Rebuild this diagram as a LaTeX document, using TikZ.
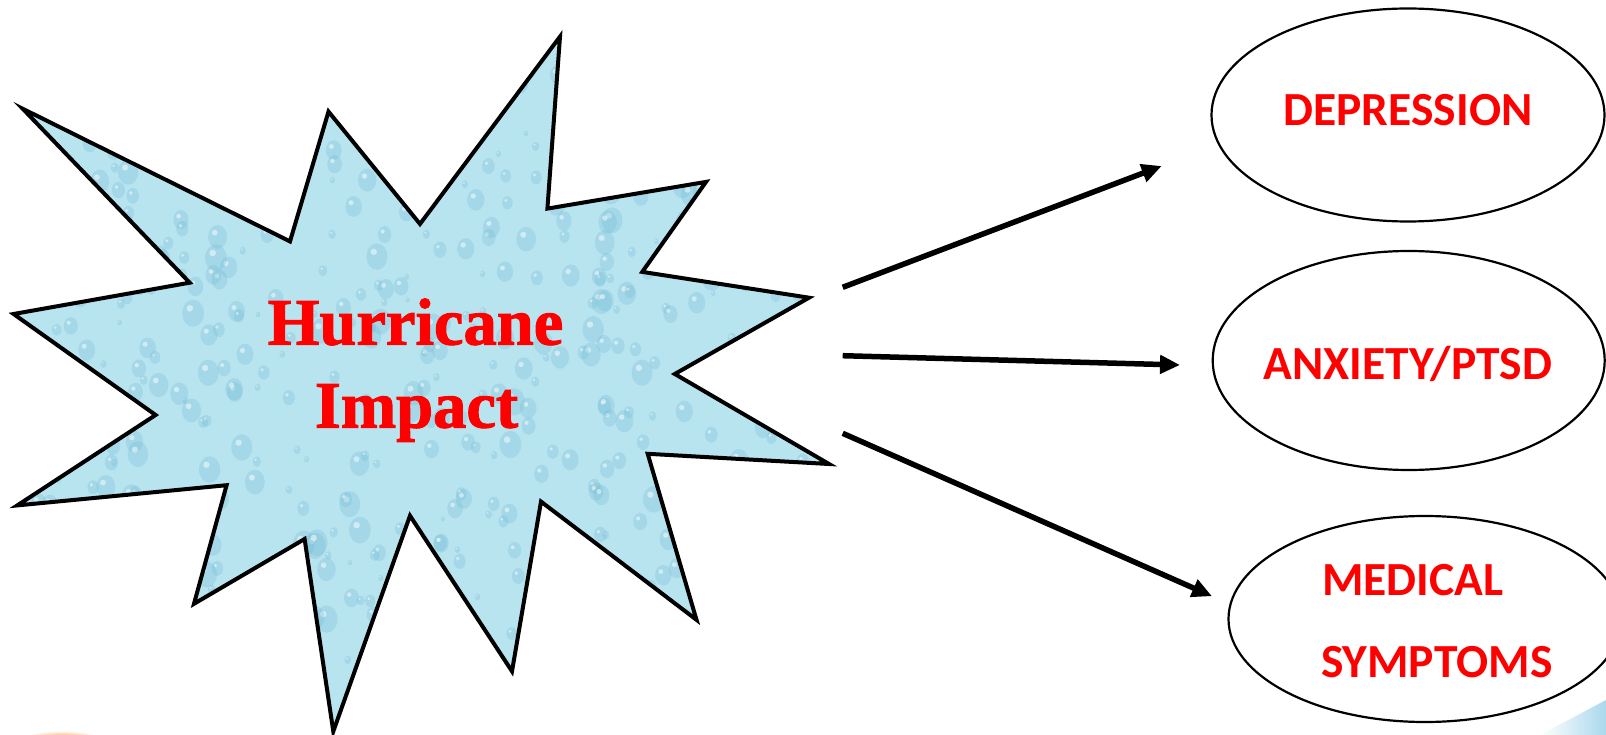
\documentclass[tikz,border=0pt]{standalone}
\usepackage{fontspec}
\setmainfont{Liberation Serif}
\newfontfamily\starfont{Liberation Serif Bold}[FakeBold=1.6]
\newfontfamily\calib{Carlito}
\usetikzlibrary{arrows.meta,shapes.geometric}
\definecolor{starfill}{RGB}{184,228,240}
\definecolor{dropc}{RGB}{105,182,210}
\definecolor{txtred}{RGB}{255,0,0}
\definecolor{swoosh}{RGB}{170,216,236}
\begin{document}
\begin{tikzpicture}[x=1pt,y=-1pt,
  startext/.style={text=txtred, font=\starfont\fontsize{66.5}{83}\selectfont, inner sep=0pt, anchor=base},
  bubble/.style={draw=black, line width=2.2pt, ellipse, inner sep=0pt},
  labtext/.style={text=txtred, font=\calib\bfseries\fontsize{47.5}{57}\selectfont, inner sep=0pt, anchor=base},
  conn/.style={line width=5.5pt, -{Triangle[length=20pt,width=18pt]}},
  outline/.style={draw=black, line width=4pt, line join=miter}]
\useasboundingbox (0,0) rectangle (1606,735);
\clip (0,0) rectangle (1606,735);
\fill[white] (0,0) rectangle (1606,735);
\def\starpath{(22.8,108.8) -- (290,241.4) -- (328.5,111.6) -- (420,224) -- (560,36.6) -- (547.4,208.6) -- (706,181.9) -- (642.3,271.9) -- (809,297.7) -- (674.8,374) -- (829,464) -- (647.7,453.8) -- (696.5,619.8) -- (541,501.6) -- (512,671.3) -- (410,515.7) -- (333.3,731.4) -- (304.6,539) -- (194,603.8) -- (226.6,485.2) -- (17.3,505.4) -- (155.6,415) -- (13.6,314) -- (189.7,282.7) -- cycle}
% background accents
\shade[inner color=orange!90!red, outer color=white] (62,740) ellipse [x radius=42, y radius=9];
\shade[left color=white, right color=swoosh] (1540,735) -- (1606,700) -- (1606,735) -- cycle;
% star with droplet texture
\begin{scope}
  \clip \starpath;
  \fill[starfill] (0,0) rectangle (840,735);
  \pgfmathsetseed{7}
  \foreach \i in {1,...,650}{
    \pgfmathsetmacro{\px}{rnd*840}
    \pgfmathsetmacro{\py}{rnd*735}
    \pgfmathsetmacro{\pr}{2+rnd*9}
    \fill[dropc, opacity=0.25] (\px,\py) ellipse [x radius=\pr, y radius=1.25*\pr];
    \fill[white, opacity=0.5] (\px-0.3*\pr,\py-0.45*\pr) circle [radius=0.3*\pr];
  }
\end{scope}
\path[outline] \starpath;
% star text
\node[startext] (hur) at (415.5,344.6) {Hurricane};
\node[startext] (imp) at (416.5,427.6) {Impact};
% ellipses
\node[bubble, minimum width=393pt, minimum height=213pt] (dep) at (1408,115) {};
\node[bubble, minimum width=392pt, minimum height=219pt] (anx) at (1408.7,360.5) {};
\node[bubble, minimum width=393pt, minimum height=206pt] (med) at (1425,619) {};
\node[labtext] (deptxt) at (1408,125.6) {DEPRESSION};
\node[labtext] (anxtxt) at (1407.7,379.7) {ANXIETY/PTSD};
\node[labtext, anchor=base west] (medtxt1) at (1322,595.4) {MEDICAL};
\node[labtext, anchor=base west] (medtxt2) at (1321,677.5) {SYMPTOMS};
% arrows
\coordinate (s1) at (842.7,287.3);
\coordinate (t1) at (1161.7,166);
\coordinate (s2) at (842.7,355.7);
\coordinate (t2) at (1180,365);
\coordinate (s3) at (842.7,433.3);
\coordinate (t3) at (1212,596.2);
\draw[conn] (s1) -- (t1);
\draw[conn] (s2) -- (t2);
\draw[conn] (s3) -- (t3);
\end{tikzpicture}
\end{document}
